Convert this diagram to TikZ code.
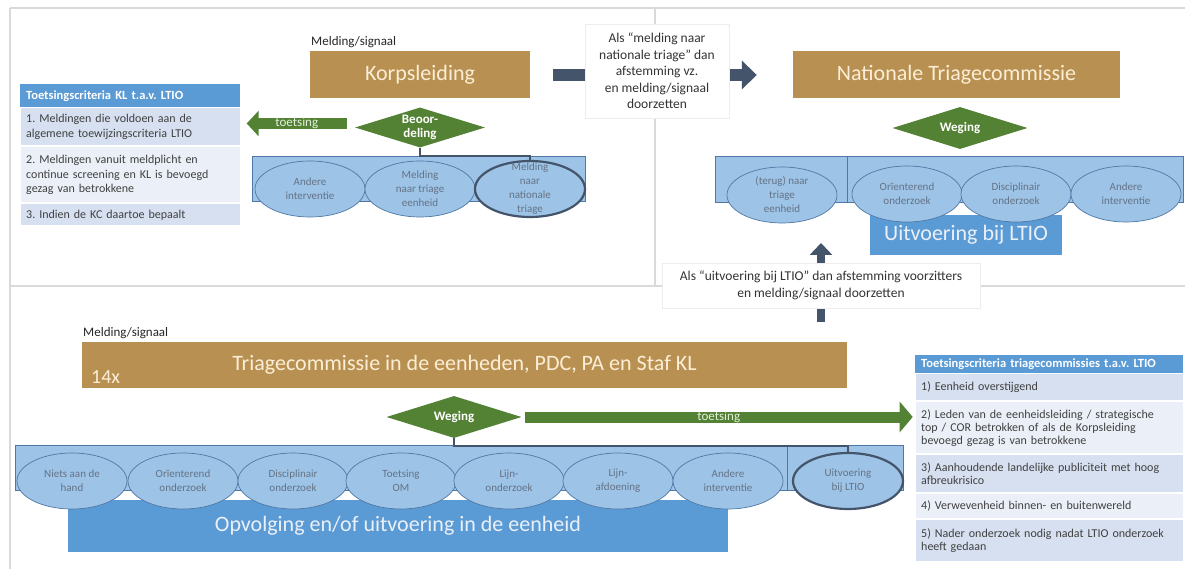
\documentclass[tikz,border=0pt]{standalone}
\usepackage{fontspec}
\setmainfont{Carlito}
\usetikzlibrary{positioning,shapes.geometric,arrows.meta}
\definecolor{kaderbruin}{RGB}{184,145,82}
\definecolor{roomtekst}{RGB}{252,238,214}
\definecolor{wegingsgroen}{RGB}{84,130,53}
\definecolor{bleekgroen}{RGB}{226,240,217}
\definecolor{lichtblauw}{RGB}{157,195,230}
\definecolor{randblauw}{RGB}{80,120,165}
\definecolor{middenblauw}{RGB}{91,155,213}
\definecolor{leiblauw}{RGB}{68,84,106}
\definecolor{rijdonker}{RGB}{214,224,240}
\definecolor{rijlicht}{RGB}{235,240,248}
\definecolor{paneelgrijs}{RGB}{217,217,217}
\definecolor{ovaaltekst}{RGB}{100,115,135}
\newcommand{\lettergrootte}[2]{\fontsize{#1}{#2}\selectfont}

\tikzset{
  paneel/.style={draw=paneelgrijs, line width=2.5pt},
  kop/.style={fill=kaderbruin, text=roomtekst, font=\lettergrootte{22}{26}, inner sep=0pt},
  meldlabel/.style={anchor=base west, inner sep=0pt, font=\lettergrootte{13}{15}, text=black!85},
  afweging/.style={diamond, aspect=3.2, fill=wegingsgroen, text=white, font=\bfseries\lettergrootte{13}{14},
    align=center, inner sep=0pt, minimum width=135pt, minimum height=42pt},
  strook/.style={fill=lichtblauw, draw=randblauw, line width=0.6pt, inner sep=0pt},
  optie/.style={ellipse, fill=lichtblauw, draw=randblauw, line width=0.7pt, inner sep=0pt,
    minimum width=110pt, minimum height=56pt},
  gekozen/.style={optie, draw=leiblauw, line width=2.2pt},
  optietekst/.style={text=ovaaltekst, align=center, font=\lettergrootte{11}{14}, inner sep=0pt},
  uitkomst/.style={fill=middenblauw, text=rijlicht, font=\lettergrootte{22}{26}, inner sep=0pt},
  toetspijl/.style={draw=wegingsgroen, line width=11pt, -{Triangle[length=12pt,width=25pt]}},
  toetstekst/.style={text=bleekgroen, font=\lettergrootte{13}{15}, inner sep=0pt},
  doorpijl/.style={draw=leiblauw, line width=12pt, -{Triangle[length=15pt,width=28pt]}},
  verbind/.style={draw=leiblauw, line width=2pt},
  notitie/.style={fill=white, draw=black!7, align=center, text=black!80, font=\lettergrootte{13.5}{16.5}, inner sep=0pt},
  critkop/.style={fill=middenblauw, text=white, font=\bfseries\lettergrootte{12.5}{14}, align=left,
    inner xsep=6pt, inner ysep=0pt},
  critrij/.style={text=black!75, align=left, inner xsep=6pt, inner ysep=0pt, draw=white, line width=1pt},
  klrij/.style={critrij, text width=208pt, font=\lettergrootte{12}{14.5}},
  ltiorij/.style={critrij, text width=256pt, font=\lettergrootte{12}{13}},
}

\begin{document}
\frenchspacing
\begin{tikzpicture}[x=1pt,y=-1pt]
\useasboundingbox[fill=white] (0,0) rectangle (1185,569);

% panelen
\draw[paneel] (10,8) -- (1185,8);
\draw[paneel] (10,8) -- (10,569);
\draw[paneel] (655,8) -- (655,286);
\draw[paneel] (10,286) -- (1185,286);

% korpsleiding
\node[meldlabel] (melding1) at (311,46) {Melding/signaal};
\node[kop, minimum width=220pt, minimum height=47pt] (korps) at (420,75) {Korpsleiding};
\node[afweging, minimum width=130pt, minimum height=40pt] (beoor) at (420,127.5) {Beoor-\\deling};
\node[strook, minimum width=333pt, minimum height=45pt] (kstrook) at (418.5,178.5) {};
\foreach \naam/\xpos/\tekst in {kandere/310/{Andere\\interventie}, ktriage/420/{Melding\\naar triage\\eenheid}} {
  \node[optie] (\naam) at (\xpos,189) {};
  \node[optietekst] (\naam-tekst) at (\naam) {\tekst};
}
\node[gekozen] (knationaal) at (530,189) {};
\node[optietekst] (knationaal-tekst) at (knationaal) {Melding\\naar\\nationale\\triage};
\draw[verbind] (beoor.south) -- ++(0,8) -| (knationaal.north);

\node[critkop, anchor=north west, text width=208pt, minimum height=23pt] (critkl) at (20,84) {Toetsingscriteria KL t.a.v. LTIO};
\node[klrij, fill=rijdonker, below=0pt of critkl, minimum height=38pt] (critkl1) {1. Meldingen die voldoen aan de\\algemene toewijzingscriteria LTIO};
\node[klrij, fill=rijlicht, below=0pt of critkl1, minimum height=56pt] (critkl2) {2. Meldingen vanuit meldplicht en\\continue screening en KL is bevoegd\\gezag van betrokkene};
\node[klrij, fill=rijdonker, below=0pt of critkl2, minimum height=22pt] (critkl3) {3. Indien de KC daartoe bepaalt};
\draw[toetspijl] ([xshift=-8pt,yshift=4pt]beoor.west) -- ([xshift=6pt,yshift=4pt]beoor.west -| critkl1.east)
  node[toetstekst, midway] (toets1) {toetsing};

% nationale triage
\node[kop, minimum width=327pt, minimum height=47pt] (natio) at (956.5,75) {Nationale Triagecommissie};
\draw[doorpijl] ([xshift=23pt]korps.east) -- ([xshift=-36pt]natio.west);
\node[notitie, minimum width=144pt, minimum height=94pt] (naarnationaal) at (657,71)
  {Als “melding naar\\nationale triage” dan\\afstemming vz.\\en melding/signaal\\doorzetten};
\node[afweging] (nweging) at (960,128) {Weging};
\node[strook, minimum width=132pt, minimum height=46pt] (nstrook1) at (781,179) {};
\node[strook, minimum width=336pt, minimum height=46pt] (nstrook2) at (1015,179) {};
\node[uitkomst, minimum width=192pt, minimum height=40pt] (uitvltio) at (966,235) {Uitvoering bij LTIO};
\foreach \naam/\xpos/\ypos/\tekst in {nterug/782/195/{(terug) naar\\triage\\eenheid}, norient/907/194/{Orïenterend\\onderzoek},
  ndiscip/1016/194/{Disciplinair\\onderzoek}, nandere/1126/194/{Andere\\interventie}} {
  \node[optie] (\naam) at (\xpos,\ypos) {};
  \node[optietekst] (\naam-tekst) at (\naam) {\tekst};
}

\coordinate (opstart) at (821,322);
\coordinate (opeind) at (821,243);
\draw[doorpijl, line width=8pt, -{Triangle[length=12pt,width=22pt]}] (opstart) -- (opeind);
\node[notitie, minimum width=318pt, minimum height=45pt] (naarltio) at (821,285.5)
  {Als “uitvoering bij LTIO” dan afstemming voorzitters\\en melding/signaal doorzetten};

% triagecommissie eenheden
\node[meldlabel] (melding2) at (83,336) {Melding/signaal};
\node[kop, minimum width=765pt, minimum height=46pt] (triage) at (464.5,365) {Triagecommissie in de eenheden, PDC, PA en Staf KL};
\node[anchor=base west, inner sep=0pt, text=roomtekst, font=\lettergrootte{20}{24}] (aantal) at (91,383) {14x};
\node[afweging] (eweging) at (454,417) {Weging};
\node[strook, minimum width=772pt, minimum height=45pt] (estrook1) at (401,467.5) {};
\node[strook, minimum width=116pt, minimum height=45pt] (estrook2) at (845,467.5) {};
\node[uitkomst, minimum width=660pt, minimum height=52pt] (opvolging) at (398,526) {Opvolging en/of uitvoering in de eenheid};
\foreach \naam/\xpos/\tekst in {eniets/72/{Niets aan de\\hand}, eorient/183/{Orïenterend\\onderzoek}, ediscip/293/{Disciplinair\\onderzoek},
  eom/401/{Toetsing\\OM}, elijnond/509/{Lijn-\\onderzoek}, elijnafd/618/{Lijn-\\afdoening}, eandere/728/{Andere\\interventie}} {
  \node[optie] (\naam) at (\xpos,481) {};
  \node[optietekst] (\naam-tekst) at (\naam) {\tekst};
}
\node[gekozen] (eltio) at (848,481) {};
\node[optietekst] (eltio-tekst) at (eltio) {Uitvoering\\bij LTIO};
\draw[verbind] (eweging.south) -- ++(0,8) -| (eltio.north);

\node[critkop, anchor=north west, text width=256pt, minimum height=18pt] (critltio) at (915,355) {Toetsingscriteria triagecommissies t.a.v. LTIO};
\node[ltiorij, fill=rijdonker, below=0pt of critltio, minimum height=27pt] (critltio1) {1) Eenheid overstijgend};
\node[ltiorij, fill=rijlicht, below=0pt of critltio1, minimum height=52pt] (critltio2) {2) Leden van de eenheidsleiding / strategische\\top / COR betrokken of als de Korpsleiding\\bevoegd gezag is van betrokkene};
\node[ltiorij, fill=rijdonker, below=0pt of critltio2, minimum height=38pt] (critltio3) {3) Aanhoudende landelijke publiciteit met hoog\\afbreukrisico};
\node[ltiorij, fill=rijlicht, below=0pt of critltio3, minimum height=25pt] (critltio4) {4) Verwevenheid binnen- en buitenwereld};
\node[ltiorij, fill=rijdonker, below=0pt of critltio4, minimum height=42pt] (critltio5) {5) Nader onderzoek nodig nadat LTIO onderzoek\\heeft gedaan};
\draw[toetspijl, -{Triangle[length=13pt,width=30pt]}] ([xshift=3pt]eweging.east) -- ([xshift=-2pt]eweging.east -| critltio2.west)
  node[toetstekst, midway] (toets2) {toetsing};
\end{tikzpicture}
\end{document}
